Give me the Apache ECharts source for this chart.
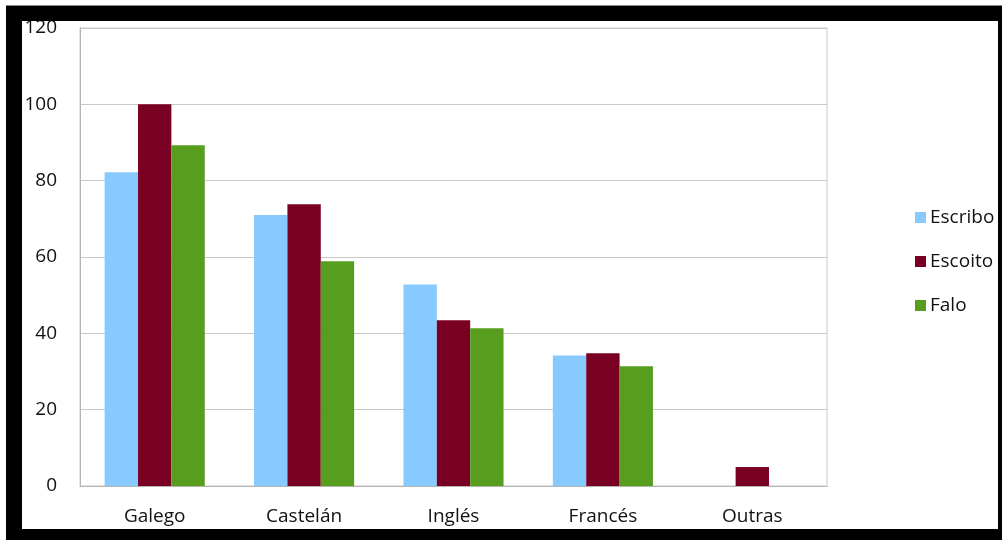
<!DOCTYPE html>
<html>
<head>
<meta charset="utf-8">
<script src="https://cdn.jsdelivr.net/npm/echarts@6/dist/echarts.min.js"></script>
<style>
  html, body { margin: 0; padding: 0; background: #fff; }
  #chart { width: 1002px; height: 540px; }
</style>
</head>
<body>
<div id="chart"></div>
<script>
// Languages and how much each is written, heard and spoken
const categories = ['Galego', 'Castelán', 'Inglés', 'Francés', 'Outras'];
const escribo = [82.2, 71.0, 52.8, 34.2, 0];
const escoito = [100, 73.8, 43.4, 34.8, 5];
const falo = [89.3, 58.9, 41.3, 31.4, 0];
const seriesNames = ['Escribo', 'Escoito', 'Falo'];
const seriesColors = ['#87CAFF', '#7A0023', '#579E1F'];

const FONT = '"Open Sans", "Noto Sans", sans-serif';

const chart = echarts.init(document.getElementById('chart'), null, { renderer: 'canvas' });

const values = [escribo, escoito, falo];
const series = seriesNames.map((name, i) => ({
  name: name,
  type: 'bar',
  data: values[i],
  barGap: '0%',
  barCategoryGap: '33%',
  itemStyle: { color: seriesColors[i] }
}));

chart.setOption({
  animation: false,
  backgroundColor: '#fff',
  textStyle: { fontFamily: FONT },
  grid: { left: 80, top: 28, width: 747, height: 458, show: true, borderColor: '#c8c8c8', borderWidth: 1, containLabel: false },
  legend: {
    orient: 'vertical',
    left: 910,
    top: 203,
    itemWidth: 11,
    itemHeight: 11,
    itemGap: 25,
    icon: 'rect',
    textStyle: { fontSize: 19, color: '#111', fontFamily: FONT, padding: [0, 0, 0, -1] },
    data: seriesNames
  },
  xAxis: {
    type: 'category',
    data: categories,
    axisLine: { lineStyle: { color: '#b4b4b4' } },
    axisTick: { show: false },
    axisLabel: { fontSize: 19, color: '#111', margin: 21, fontFamily: FONT },
    splitLine: { show: false }
  },
  yAxis: {
    type: 'value',
    min: 0,
    max: 120,
    interval: 20,
    axisLine: { show: true, lineStyle: { color: '#b4b4b4' } },
    axisTick: { show: false },
    axisLabel: { fontSize: 19, color: '#111', margin: 23, fontFamily: FONT },
    splitLine: { lineStyle: { color: '#c8c8c8' } }
  },
  series: series,
  graphic: [
    { type: 'rect', shape: { x: 6, y: 5, width: 996, height: 1 }, style: { fill: '#888' }, z: 100 },
    { type: 'rect', shape: { x: 6, y: 6, width: 996, height: 15 }, style: { fill: '#000' }, z: 100 },
    { type: 'rect', shape: { x: 6, y: 6, width: 16, height: 534 }, style: { fill: '#000' }, z: 100 },
    { type: 'rect', shape: { x: 998, y: 6, width: 4, height: 534 }, style: { fill: '#000' }, z: 100 },
    { type: 'rect', shape: { x: 6, y: 529, width: 996, height: 11 }, style: { fill: '#000' }, z: 100 }
  ]
});
</script>
</body>
</html>
